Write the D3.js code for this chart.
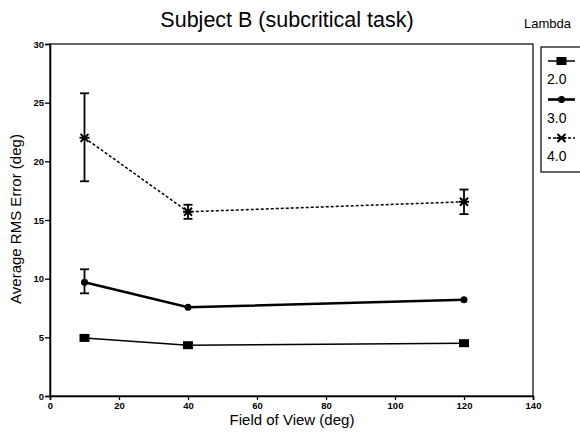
<!DOCTYPE html>
<html><head><meta charset="utf-8">
<script src="https://cdn.jsdelivr.net/npm/d3@7"></script>
<style>body{margin:0;background:#fff}svg{display:block}text{font-family:"Liberation Sans",Arial,sans-serif;fill:#000}</style>
</head><body><svg id="c" width="580" height="439"></svg>
<script>
const fov = [10, 40, 120];
const lambdas = ["2.0", "3.0", "4.0"];
const err20 = [4.95, 4.33, 4.5];
const err30 = [9.7, 7.56, 8.2];
const err40 = [22.0, 15.7, 16.55];
const lo30 = [8.75, null, null];
const hi30 = [10.8, null, null];
const lo40 = [18.3, 15.1, 15.5];
const hi40 = [25.8, 16.3, 17.6];
const xTicks = [0, 20, 40, 60, 80, 100, 120, 140];
const yTicks = [0, 5, 10, 15, 20, 25, 30];

const svg = d3.select("#c");
const x = d3.scaleLinear().domain([0, 140]).range([50, 533]);
const y = d3.scaleLinear().domain([0, 30]).range([396, 44]);

// frame
svg.append("rect").attr("x", 50).attr("y", 44).attr("width", 483).attr("height", 352)
  .attr("fill", "none").attr("stroke", "#000").attr("stroke-width", 1.2);

const xa = svg.append("g").attr("transform", "translate(0,396)")
  .call(d3.axisBottom(x).tickValues(xTicks).tickSize(4).tickPadding(2));
const ya = svg.append("g").attr("transform", "translate(50,0)")
  .call(d3.axisLeft(y).tickValues(yTicks).tickSize(5).tickPadding(1));
[xa, ya].forEach(a => {
  a.select(".domain").attr("stroke", "#000").attr("stroke-width", 1.5);
  a.selectAll(".tick line").attr("stroke", "#000").attr("stroke-width", 1.3);
  a.selectAll(".tick text").attr("font-size", 9.5).attr("font-weight", "bold")
    .attr("font-family", "'Liberation Sans Narrow','Liberation Sans',Arial,sans-serif");
});

svg.append("text").attr("x", 287).attr("y", 27).attr("text-anchor", "middle")
  .attr("font-size", 21.5).text("Subject B (subcritical task)");
svg.append("text").attr("x", 292).attr("y", 425).attr("text-anchor", "middle")
  .attr("font-size", 15).text("Field of View (deg)");
svg.append("text").attr("transform", "translate(21,219) rotate(-90)").attr("text-anchor", "middle")
  .attr("font-size", 15).text("Average RMS Error (deg)");

const series = [
  {vals: err20, lo: null, hi: null, width: 1.5, dash: null, sym: "square"},
  {vals: err30, lo: lo30, hi: hi30, width: 2.6, dash: null, sym: "diamond"},
  {vals: err40, lo: lo40, hi: hi40, width: 1.5, dash: "3,2", sym: "star"}
];
const line = d3.line().x((d, i) => x(fov[i])).y(d => y(d));

function drawSym(g, type, cx, cy) {
  if (type === "square") {
    g.append("rect").attr("x", cx - 5).attr("y", cy - 4).attr("width", 10).attr("height", 8).attr("fill", "#000");
  } else if (type === "diamond") {
    g.append("circle").attr("cx", cx).attr("cy", cy).attr("r", 3.5).attr("fill", "#000");
  } else {
    const s = 4;
    g.append("path").attr("d", `M${cx-s},${cy-s}L${cx+s},${cy+s}M${cx-s},${cy+s}L${cx+s},${cy-s}M${cx-s-1},${cy}L${cx+s+1},${cy}`)
      .attr("stroke", "#000").attr("stroke-width", 2);
  }
}

series.forEach(s => {
  svg.append("path").datum(s.vals).attr("d", line).attr("fill", "none")
    .attr("stroke", "#000").attr("stroke-width", s.width).attr("stroke-dasharray", s.dash);
  if (s.lo) {
    s.vals.forEach((v, i) => {
      if (s.lo[i] == null) return;
      const cx = x(fov[i]);
      const g = svg.append("g").attr("stroke", "#000").attr("stroke-width", 1.8);
      g.append("line").attr("x1", cx).attr("x2", cx).attr("y1", y(s.hi[i])).attr("y2", y(s.lo[i]));
      g.append("line").attr("x1", cx - 4.5).attr("x2", cx + 4.5).attr("y1", y(s.hi[i])).attr("y2", y(s.hi[i]));
      g.append("line").attr("x1", cx - 4.5).attr("x2", cx + 4.5).attr("y1", y(s.lo[i])).attr("y2", y(s.lo[i]));
    });
  }
  s.vals.forEach((v, i) => drawSym(svg, s.sym, x(fov[i]), y(v)));
});

// legend
svg.append("text").attr("x", 524).attr("y", 28).attr("font-size", 13).text("Lambda");
svg.append("rect").attr("x", 541).attr("y", 47).attr("width", 45).attr("height", 125)
  .attr("fill", "none").attr("stroke", "#000").attr("stroke-width", 1.2);
lambdas.forEach((lab, i) => {
  const s = series[i];
  const ly = 61 + i * 38.5;
  svg.append("line").attr("x1", 548).attr("x2", 575).attr("y1", ly).attr("y2", ly)
    .attr("stroke", "#000").attr("stroke-width", s.width).attr("stroke-dasharray", s.dash);
  drawSym(svg, s.sym, 561.5, ly);
  svg.append("text").attr("x", 547).attr("y", ly + 23).attr("font-size", 14).text(lab);
});
</script></body></html>
